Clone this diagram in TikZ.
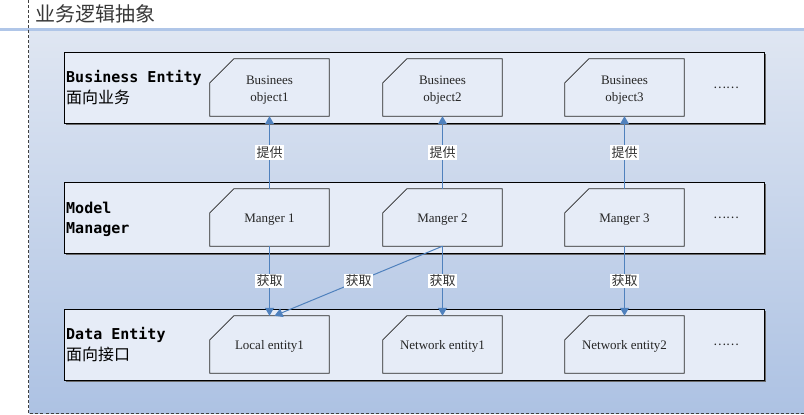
\documentclass[tikz,border=0pt]{standalone}
\usepackage{fontspec}
\setmainfont{Liberation Serif}
\newfontfamily\cjk{Noto Sans CJK SC}
\newfontfamily\monob{DejaVu Sans Mono}
\usetikzlibrary{arrows.meta}
\pgfdeclarelayer{bg}
\pgfsetlayers{bg,main}
\definecolor{bgtop}{HTML}{DFE6F2}
\definecolor{bgbot}{HTML}{ADC2E3}
\definecolor{rowfill}{HTML}{E6ECF7}
\definecolor{linkblue}{HTML}{4F81BD}
\definecolor{topline}{HTML}{B0C6E8}
\definecolor{dashgray}{HTML}{404040}
\definecolor{shadowgray}{HTML}{6A6A6A}
\newcommand\lowtxt[1]{\raisebox{-2pt}[\height][\depth]{\begin{tabular}{@{}c@{}}#1\end{tabular}}}
\begin{document}
\begin{tikzpicture}[x=1pt,y=-1pt,
  rowbox/.style={draw=black, line width=0.8pt, fill=rowfill},
  rowshadow/.style={fill=shadowgray, draw=none},
  inbox/.style={minimum width=119pt, minimum height=57pt, inner sep=0pt, align=center,
    font=\fontsize{13}{16.5}\selectfont, text=black!85},
  chamf/.style={draw=black!85, line width=0.8pt, fill=rowfill},
  rowlabel/.style={anchor=west, align=left, inner sep=0pt, font=\monob\bfseries\fontsize{15}{20}\selectfont},
  link/.style={draw=linkblue, line width=1pt, -{Triangle[length=8pt,width=9pt]}},
  linklabel/.style={fill=white, inner sep=1.2pt, font=\cjk\fontsize{13}{13}\selectfont, text=black!80},
  dotsstyle/.style={inner sep=0pt, font=\cjk\fontsize{12}{12}\selectfont, text=black!85},
  titlestyle/.style={anchor=west, inner sep=0pt, font=\cjk\fontsize{20}{20}\selectfont, text=black!78}
]
\useasboundingbox (0,0) rectangle (804,415);

% title
\node[titlestyle] (title) at (35,14) {业务逻辑抽象};

% row labels
\node[rowlabel] (lab1) at (66,88) {Business Entity\\[1pt]{\cjk\mdseries\fontsize{16}{20}\selectfont 面向业务}};
\node[rowlabel] (lab2) at (66,219.5) {Model\\Manager};
\node[rowlabel] (lab3) at (66,344.5) {Data Entity\\[1pt]{\cjk\mdseries\fontsize{16}{20}\selectfont 面向接口}};

% inner boxes
\node[inbox] (o1) at (269.5,87.5) {\lowtxt{Businees\\object1}};
\node[inbox] (o2) at (442.5,87.5) {\lowtxt{Businees\\object2}};
\node[inbox] (o3) at (624.5,87.5) {\lowtxt{Businees\\object3}};
\node[inbox] (m1) at (269.5,217.5) {\lowtxt{Manger 1}};
\node[inbox] (m2) at (442.5,217.5) {\lowtxt{Manger 2}};
\node[inbox] (m3) at (624.5,217.5) {\lowtxt{Manger 3}};
\node[inbox] (e1) at (269.5,344.5) {\lowtxt{Local entity1}};
\node[inbox] (e2) at (442.5,344.5) {\lowtxt{Network entity1}};
\node[inbox] (e3) at (624.5,344.5) {\lowtxt{Network entity2}};

% ellipses
\node[dotsstyle] (d1) at (726,87.5) {……};
\node[dotsstyle] (d2) at (726,217.5) {……};
\node[dotsstyle] (d3) at (726,344.5) {……};

\begin{pgfonlayer}{bg}
  \shade[top color=bgtop, bottom color=bgbot] (29,31) rectangle (804,413);
  \draw[topline, line width=2.5pt] (0,29.5) -- (804,29.5);
  \draw[dashgray, line width=1pt, dash pattern=on 3pt off 2pt] (28.5,0) -- (28.5,413) -- (804,413);
  % rows
  \fill[rowshadow] (65.5,54.2) rectangle (765.8,125);
  \draw[rowbox] (64,52.7) rectangle (764,123.3);
  \fill[rowshadow] (65.5,184.2) rectangle (765.8,254.8);
  \draw[rowbox] (64,182.7) rectangle (764,253);
  \fill[rowshadow] (65.5,310.5) rectangle (765.8,381.8);
  \draw[rowbox] (64,309) rectangle (764,380);
  % chamfered boxes
  \foreach \n in {o1,o2,o3,m1,m2,m3,e1,e2,e3}
    \draw[chamf] ([yshift=-24pt]\n.north west) -- ([xshift=24pt]\n.north west)
      -- (\n.north east) -- (\n.south east) -- (\n.south west) -- cycle;
\end{pgfonlayer}

% links
\draw[link] (m1.north) -- node[linklabel] {提供} (o1.south);
\draw[link] (m2.north) -- node[linklabel] {提供} (o2.south);
\draw[link] (m3.north) -- node[linklabel] {提供} (o3.south);
\draw[link] (m1.south) -- node[linklabel] {获取} (e1.north);
\draw[link] (m2.south) -- node[linklabel] {获取} (e2.north);
\draw[link] (m3.south) -- node[linklabel] {获取} (e3.north);
\draw[link] (m2.south) -- node[linklabel] {获取} ([xshift=5pt]e1.north);
\end{tikzpicture}
\end{document}
